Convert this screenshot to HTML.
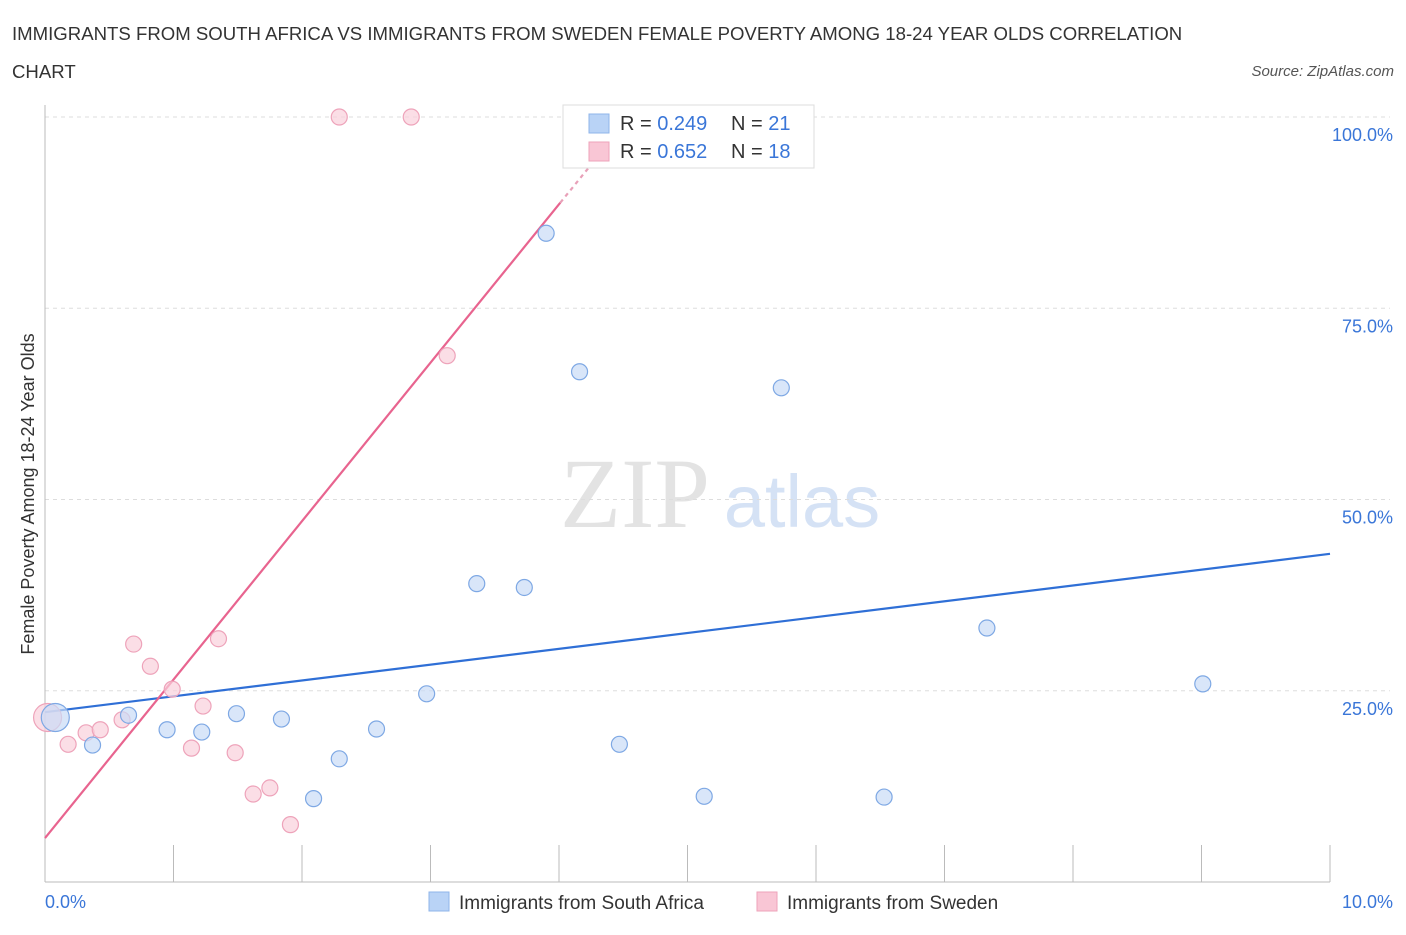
<!DOCTYPE html>
<html><head><meta charset="utf-8"><style>
body{margin:0;background:#fff;font-family:"Liberation Sans",sans-serif;}
</style></head><body>
<svg id="chart" width="1406" height="930" xmlns="http://www.w3.org/2000/svg" font-family="Liberation Sans, sans-serif">
<text x="12" y="40" font-size="18.6" fill="#333">IMMIGRANTS FROM SOUTH AFRICA VS IMMIGRANTS FROM SWEDEN FEMALE POVERTY AMONG 18-24 YEAR OLDS CORRELATION</text>
<text x="12" y="78" font-size="18.6" fill="#333">CHART</text>
<text x="1394" y="76" font-size="15" font-style="italic" fill="#555" text-anchor="end">Source: ZipAtlas.com</text>
<text x="635" y="527" font-size="100" font-family="Liberation Serif, serif" fill="#e3e3e3" text-anchor="middle">ZIP</text>
<text x="802" y="527" font-size="74" fill="#d5e2f5" text-anchor="middle">atlas</text>
<g id="grid"></g><g id="axes"></g><g id="lines"></g><g id="pts"></g>
<text transform="translate(34,494) rotate(-90)" font-size="18" fill="#333" text-anchor="middle">Female Poverty Among 18-24 Year Olds</text>
<text x="45" y="908" font-size="18" fill="#3a76d8">0.0%</text>
<text x="1393" y="908" font-size="18" fill="#3a76d8" text-anchor="end">10.0%</text>
<g>
<rect x="563" y="105" width="251" height="63" fill="#fff" stroke="#ddd"/>
<rect x="589" y="114" width="20" height="19" fill="#b9d3f6" stroke="#8fb4ea"/>
<rect x="589" y="142" width="20" height="19" fill="#f9c6d5" stroke="#eea3ba"/>
<text x="620" y="130" font-size="20" fill="#333">R = <tspan fill="#3a76d8">0.249</tspan></text>
<text x="731" y="130" font-size="20" fill="#333">N = <tspan fill="#3a76d8">21</tspan></text>
<text x="620" y="158" font-size="20" fill="#333">R = <tspan fill="#3a76d8">0.652</tspan></text>
<text x="731" y="158" font-size="20" fill="#333">N = <tspan fill="#3a76d8">18</tspan></text>
</g>
<g>
<rect x="429" y="892" width="20" height="19" fill="#b9d3f6" stroke="#8fb4ea"/>
<text x="459" y="909" font-size="19" fill="#333">Immigrants from South Africa</text>
<rect x="757" y="892" width="20" height="19" fill="#f9c6d5" stroke="#eea3ba"/>
<text x="787" y="909" font-size="19" fill="#333">Immigrants from Sweden</text>
</g>
</svg>
<script>
const blueX=[0.08,0.37,0.65,0.95,1.22,1.49,1.84,2.09,2.29,2.58,2.97,3.36,3.73,3.90,4.16,4.47,5.13,5.73,6.53,7.33,9.01];
const blueY=[21.5,17.9,21.8,19.9,19.6,22.0,21.3,10.9,16.1,20.0,24.6,39.0,38.5,84.8,66.7,18.0,11.2,64.6,11.1,33.2,25.9];
const pinkX=[0.02,0.18,0.32,0.43,0.60,0.69,0.82,0.99,1.14,1.23,1.35,1.48,1.62,1.75,1.91,2.29,2.85,3.13];
const pinkY=[21.5,18.0,19.5,19.9,21.2,31.1,28.2,25.2,17.5,23.0,31.8,16.9,11.5,12.3,7.5,100,100,68.8];
const yTicks=[25,50,75,100];
const yTickLabels=["25.0%","50.0%","75.0%","100.0%"];
const blueTrend=[[0,22.2],[10,42.9]];
const pinkTrend=[[0,5.75],[4.01,88.8]];
const pinkTrendDash=[[4.01,88.8],[4.3,94.8]];
const NS="http://www.w3.org/2000/svg";
const xs=v=>45+v*128.5, ys=v=>882-v*7.65;
function mk(t,a,p){const e=document.createElementNS(NS,t);for(const k in a)e.setAttribute(k,a[k]);document.getElementById(p).appendChild(e);return e;}
yTicks.forEach((t,i)=>{
 const g=mk('line',{x1:45,x2:1390,y1:ys(t),y2:ys(t),stroke:'#ddd','stroke-dasharray':'4,4'},'grid');
 
 
 const tx=mk('text',{x:1393,y:ys(t)+24,'font-size':18,fill:'#3a76d8','text-anchor':'end'},'grid');
 tx.textContent=yTickLabels[i];
 
 
});
let ax=mk('line',{x1:45,x2:45,y1:105,y2:882,stroke:'#bbb'},'axes');


ax=mk('line',{x1:45,x2:1330,y1:882,y2:882,stroke:'#bbb'},'axes');


for(let i=1;i<=10;i++){const t=mk('line',{x1:xs(i),x2:xs(i),y1:845,y2:882,stroke:'#bbb'},'axes');
 
 }
function ln(d,c,n,dash){const l=mk('line',{x1:xs(d[0][0]),y1:ys(d[0][1]),x2:xs(d[1][0]),y2:ys(d[1][1]),stroke:c,'stroke-width':2.2},'lines');
 if(dash)l.setAttribute('stroke-dasharray','4,4');
 
 }
ln(blueTrend,'#2f6fd6','trend-south-africa');
ln(pinkTrend,'#e8648f','trend-sweden');
ln(pinkTrendDash,'#e8a0b8','trend-sweden-extension',true);
function pts(X,Y,f,s,n){X.forEach((x,i)=>{const c=mk('circle',{cx:xs(x),cy:ys(Y[i]),r:i==0?14:8,fill:f,stroke:s,'stroke-width':1.2,'fill-opacity':0.7},'pts');
 
 });}
pts(pinkX,pinkY,'#fad0dc','#eea3ba','point-sweden');
pts(blueX,blueY,'#c9dcf6','#7ea8e4','point-south-africa');
</script>
</body></html>
